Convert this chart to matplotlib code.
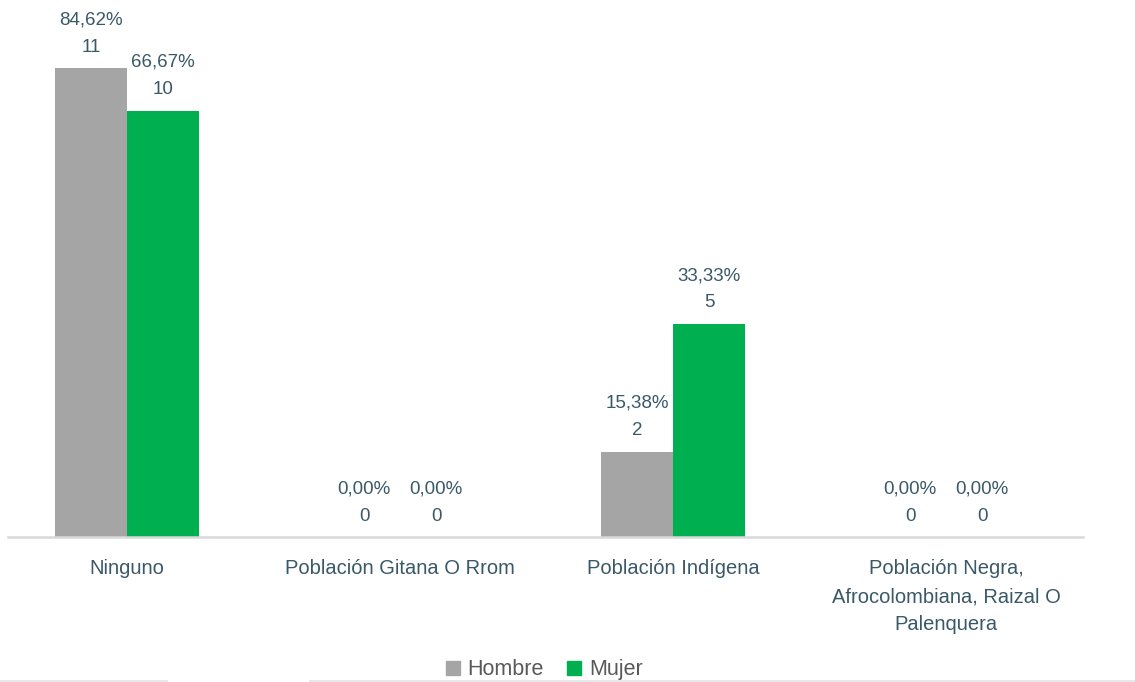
import matplotlib
matplotlib.use('Agg')
import matplotlib.pyplot as plt
import numpy as np
from matplotlib.lines import Line2D

categories = ["Ninguno", "Población Gitana O Rrom", "Población Indígena",
              "Población Negra,\nAfrocolombiana, Raizal O\nPalenquera"]
hombre_n = [11, 0, 2, 0]
mujer_n = [10, 0, 5, 0]
hombre_pct = ["84,62%", "0,00%", "15,38%", "0,00%"]
mujer_pct = ["66,67%", "0,00%", "33,33%", "0,00%"]

GRAY = "#A5A5A5"
GREEN = "#00B050"
TXT = "#3A5968"

plt.rcParams['font.family'] = ['Liberation Sans', 'DejaVu Sans']

fig = plt.figure(figsize=(11.35, 6.82), dpi=100)
fig.patch.set_facecolor("white")
ax = fig.add_axes([0.007, 0.2126, 0.947, 0.7874])

x = np.arange(len(categories))
w = 0.264
b1 = ax.bar(x - w / 2, hombre_n, w, color=GRAY)
b2 = ax.bar(x + w / 2, mujer_n, w, color=GREEN)

for bars, pcts in [(b1, hombre_pct), (b2, mujer_pct)]:
    for rect, p in zip(bars, pcts):
        ax.annotate(f"{p}\n{int(rect.get_height())}",
                    (rect.get_x() + rect.get_width() / 2, rect.get_height()),
                    xytext=(0, 9), textcoords="offset points",
                    ha="center", va="bottom", fontsize=13.5, color=TXT,
                    linespacing=1.8)

ax.set_xlim(-0.436, 3.5)
ax.set_ylim(0, 12.6)
ax.set_xticks(x)
ax.set_xticklabels(categories, fontsize=14.5, color=TXT, linespacing=1.6, va="top")
ax.tick_params(axis="x", length=0, pad=16)
ax.set_yticks([])
for s in ["top", "right", "left"]:
    ax.spines[s].set_visible(False)
ax.spines["bottom"].set_color("#D9D9D9")
ax.spines["bottom"].set_linewidth(1.8)

handles = [Line2D([], [], marker="s", linestyle="", markersize=9.5, color=GRAY),
           Line2D([], [], marker="s", linestyle="", markersize=9.5, color=GREEN)]
fig.legend(handles, ["Hombre", "Mujer"], loc="center", bbox_to_anchor=(0.477, 0.018),
           ncol=2, frameon=False, fontsize=15.5, handletextpad=0.1, columnspacing=0.8,
           labelcolor="#595959", borderpad=0.1, handlelength=1.2)

# faint lines along the bottom edge
fig.add_artist(Line2D([0, 0.146], [0.002, 0.002], color="#E6E6E6", linewidth=2))
fig.add_artist(Line2D([0.273, 1.0], [0.002, 0.002], color="#E6E6E6", linewidth=2))

fig.savefig("out.png", dpi=100, facecolor="white")
